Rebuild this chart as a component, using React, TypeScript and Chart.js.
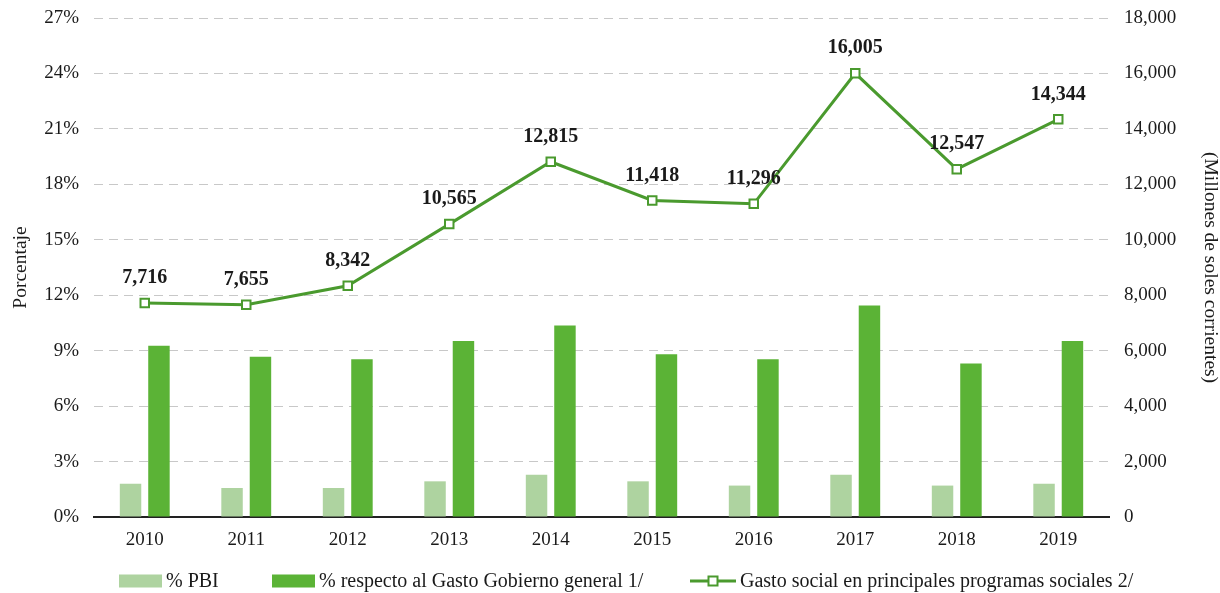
import React, { useEffect, useRef } from "react";
import { Chart, registerables } from "chart.js";

Chart.register(...registerables);

// ---------- data ----------
const years = ["2010", "2011", "2012", "2013", "2014", "2015", "2016", "2017", "2018", "2019"];
const pctPBI = [1.8, 1.57, 1.57, 1.93, 2.29, 1.93, 1.7, 2.29, 1.7, 1.8];
const pctGastoGobierno = [9.27, 8.67, 8.54, 9.52, 10.36, 8.8, 8.54, 11.44, 8.31, 9.52];
const gastoSocial = [7716, 7655, 8342, 10565, 12815, 11418, 11296, 16005, 12547, 14344];

const seriesLabels = [
  "% PBI",
  "% respecto al Gasto Gobierno general 1/",
  "Gasto social en principales programas sociales 2/",
];
const leftAxisTitle = "Porcentaje";
const rightAxisTitle = "(Millones de soles corrientes)";
const leftMax = 27;
const leftStep = 3;
const rightMax = 18000;
const rightStep = 2000;

// ---------- styles ----------
const FONT = '"Liberation Serif", "Times New Roman", serif';
const TEXT = "#1a1a1a";
const LIGHT = "#aed3a0";
const DARK = "#5bb336";
const LINE = "#4a9a2e";
const GRID = "#c8c8c8";

const fmt = (v: number) => Number(v).toLocaleString("en-US");

const dataLabelPlugin = {
  id: "dataLabels",
  afterDatasetsDraw(chart: any) {
    const ctx = chart.ctx;
    const meta = chart.getDatasetMeta(2);
    const values = chart.data.datasets[2].data as number[];
    ctx.save();
    ctx.font = `bold 20px ${FONT}`;
    ctx.fillStyle = TEXT;
    ctx.textAlign = "center";
    ctx.textBaseline = "middle";
    meta.data.forEach((pt: any, i: number) => {
      ctx.fillText(fmt(values[i]), pt.x, pt.y - 25);
    });
    ctx.restore();
  },
};

const legendPlugin = {
  id: "customLegend",
  afterDraw(chart: any) {
    const ctx = chart.ctx;
    const y = 581;
    const starts = [119, 272, 690];
    const datasets = chart.data.datasets;
    ctx.save();
    ctx.font = `20px ${FONT}`;
    ctx.textBaseline = "middle";
    ctx.textAlign = "left";
    datasets.forEach((ds: any, i: number) => {
      const x = starts[i];
      let w: number;
      if (ds.type === "line") {
        w = 46;
        ctx.strokeStyle = ds.borderColor;
        ctx.lineWidth = 3;
        ctx.beginPath();
        ctx.moveTo(x, y);
        ctx.lineTo(x + w, y);
        ctx.stroke();
        ctx.fillStyle = "#ffffff";
        ctx.lineWidth = 2;
        ctx.fillRect(x + w / 2 - 4.5, y - 4.5, 9, 9);
        ctx.strokeRect(x + w / 2 - 4.5, y - 4.5, 9, 9);
      } else {
        w = 43;
        ctx.fillStyle = ds.backgroundColor;
        ctx.fillRect(x, y - 6.5, w, 13);
      }
      ctx.fillStyle = TEXT;
      ctx.fillText(ds.label, x + w + 4, y + 1);
    });
    ctx.restore();
  },
};

const noVerticalPad = (s: any) => {
  s.paddingTop = 0;
  s.paddingBottom = 0;
};

export default function App() {
  const canvasRef = useRef<HTMLCanvasElement | null>(null);

  useEffect(() => {
    if (!canvasRef.current) return;
    const chart = new Chart(canvasRef.current, {
      type: "bar",
      data: {
        labels: years,
        datasets: [
          {
            type: "bar",
            label: seriesLabels[0],
            data: pctPBI,
            backgroundColor: LIGHT,
            yAxisID: "y",
            order: 2,
            categoryPercentage: 0.56,
            barPercentage: 0.755,
          },
          {
            type: "bar",
            label: seriesLabels[1],
            data: pctGastoGobierno,
            backgroundColor: DARK,
            yAxisID: "y",
            order: 2,
            categoryPercentage: 0.56,
            barPercentage: 0.755,
          },
          {
            type: "line",
            label: seriesLabels[2],
            data: gastoSocial,
            borderColor: LINE,
            backgroundColor: LINE,
            borderWidth: 3,
            pointStyle: "rect",
            pointRadius: 6,
            pointBorderWidth: 2,
            pointBackgroundColor: "#ffffff",
            pointBorderColor: LINE,
            yAxisID: "y1",
            order: 0,
            tension: 0,
          } as any,
        ],
      },
      options: {
        responsive: true,
        maintainAspectRatio: false,
        animation: false,
        layout: { padding: { top: 18, bottom: 36, left: 0, right: 0 } },
        plugins: {
          legend: { display: false },
          tooltip: { enabled: false },
        },
        scales: {
          x: {
            grid: { display: false, drawTicks: false },
            border: { display: true, color: "#222222", width: 2 },
            ticks: { padding: 12, color: TEXT, font: { family: FONT, size: 19 } },
            afterFit: (s: any) => {
              s.height = 40;
            },
          },
          y: {
            position: "left",
            min: 0,
            max: leftMax,
            ticks: {
              stepSize: leftStep,
              padding: 15,
              color: TEXT,
              font: { family: FONT, size: 19 },
              callback: (v: any) => `${v}%`,
            },
            grid: { color: GRID, drawTicks: false, lineWidth: 1 },
            border: { display: false, dash: [9, 6] },
            title: {
              display: true,
              text: leftAxisTitle,
              color: TEXT,
              font: { family: FONT, size: 19.5 },
              padding: { top: 9, bottom: 0 },
            },
            afterFit: (s: any) => {
              s.width = 94;
              noVerticalPad(s);
            },
          },
          y1: {
            position: "right",
            min: 0,
            max: rightMax,
            ticks: {
              stepSize: rightStep,
              padding: 15,
              color: TEXT,
              font: { family: FONT, size: 19 },
              callback: (v: any) => fmt(v),
            },
            grid: { display: false, drawTicks: false },
            border: { display: false },
            title: {
              display: true,
              text: rightAxisTitle,
              color: TEXT,
              font: { family: FONT, size: 19.5 },
              padding: { top: -2, bottom: 0 },
            },
            afterFit: (s: any) => {
              s.width = 111;
              noVerticalPad(s);
            },
          },
        },
      },
      plugins: [dataLabelPlugin, legendPlugin],
    });
    return () => chart.destroy();
  }, []);

  return (
    <div style={{ position: "absolute", left: 0, top: 0, width: 1220, height: 593 }}>
      <canvas ref={canvasRef} />
    </div>
  );
}
